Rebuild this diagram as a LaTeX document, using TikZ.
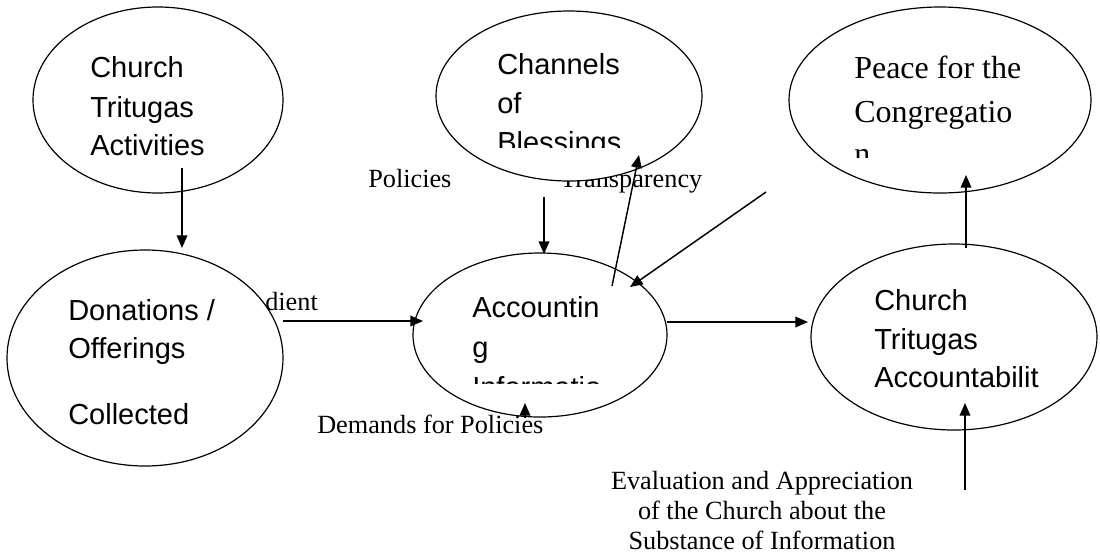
\documentclass[tikz,border=0pt]{standalone}
\usepackage{fontspec}
\setmainfont{Liberation Serif}
\newfontfamily\arialf{Liberation Sans}
\usetikzlibrary{shapes.geometric,arrows.meta}
\begin{document}
\begin{tikzpicture}[x=0.75pt,y=-0.75pt,
  ell/.style={draw, ellipse, fill=white, line width=0.9pt, inner sep=0pt},
  arr/.style={-{Triangle[length=9.5pt,width=8pt]}, line width=1.1pt},
  lab/.style={anchor=base west, inner sep=0pt, font=\fontsize{19.7}{22}\selectfont},
  etxt/.style={anchor=base west, inner sep=0pt, font=\arialf\fontsize{21.75}{26}\selectfont},
  ptxt/.style={anchor=base west, inner sep=0pt, font=\fontsize{24}{28}\selectfont}]
\useasboundingbox (0,0) rectangle (1100,558);

% labels that lie under ellipses
\node[lab] (lobed) at (265,310) {dient};
\node[lab] (ltrans) at (560,187) {Transparency};
\node[lab] (lpol) at (368,187) {Policies};
\node[lab] (ldem) at (317,433) {Demands for Policies};
\node[lab, anchor=base] (leval) at (762,489) {Evaluation and Appreciation};
\node[lab, anchor=base] (leval2) at (762,519) {of the Church about the};
\node[lab, anchor=base] (leval3) at (762,549) {Substance of Information};

% ellipses
\node[ell, minimum width=187.5pt, minimum height=139.5pt] (act) at (158,100) {};
\node[ell, minimum width=207pt, minimum height=162pt] (don) at (145,358) {};
\node[ell, minimum width=199.5pt, minimum height=127.5pt] (chan) at (569,96) {};
\node[ell, minimum width=226.5pt, minimum height=139.5pt] (peace) at (940,100) {};
\node[ell, minimum width=190.5pt, minimum height=123pt] (acc) at (540,335) {};
\node[ell, minimum width=214.5pt, minimum height=139.5pt] (cta) at (954,337) {};

% ellipse texts
\node[etxt] (t1a) at (90,77) {Church};
\node[etxt] (t1b) at (90,117) {Tritugas};
\node[etxt] (t1c) at (90,155) {Activities};

\node[etxt] (t2a) at (68,320) {Donations /};
\node[etxt] (t2b) at (68,358) {Offerings};
\node[etxt] (t2c) at (68,424) {Collected};

\begin{scope}
\clip (480,20) rectangle (680,147);
\node[etxt] (t3a) at (497,74) {Channels};
\node[etxt] (t3b) at (497,113) {of};
\node[etxt] (t3c) at (497,152) {Blessings};
\end{scope}

\begin{scope}
\clip (840,20) rectangle (1080,157);
\node[ptxt] (t4a) at (854,78) {Peace for the};
\node[ptxt] (t4b) at (854,122) {Congregatio};
\node[ptxt] (t4c) at (854,164) {n};
\end{scope}

\begin{scope}
\clip (460,270) rectangle (660,383);
\node[etxt] (t5a) at (472,317) {Accountin};
\node[etxt] (t5b) at (472,357) {g};
\node[etxt] (t5c) at (472,397) {Informatio};
\end{scope}

\node[etxt] (t6a) at (874,310) {Church};
\node[etxt] (t6b) at (874,349) {Tritugas};
\node[etxt] (t6c) at (874,387) {Accountabilit};

% connector end points
\coordinate (a1s) at (182,168); \coordinate (a1e) at (182,248);
\coordinate (a2s) at (544,197); \coordinate (a2e) at (544,254);
\coordinate (a3s) at (612,286); \coordinate (a3e) at (639,155);
\coordinate (a4s) at (766,192); \coordinate (a4e) at (630,287);
\coordinate (a5s) at (283,321); \coordinate (a5e) at (423,321);
\coordinate (a6s) at (667,322); \coordinate (a6e) at (808,322);
\coordinate (a7s) at (966,248); \coordinate (a7e) at (966,175);
\coordinate (a8s) at (965,490); \coordinate (a8e) at (965,403);
\coordinate (a9s) at (525,418); \coordinate (a9e) at (525,403);

\draw[arr] (a1s) -- (a1e);
\draw[arr] (a2s) -- (a2e);
\draw[arr] (a3s) -- (a3e);
\draw[arr] (a4s) -- (a4e);
\draw[arr] (a5s) -- (a5e);
\draw[arr] (a6s) -- (a6e);
\draw[arr] (a7s) -- (a7e);
\draw[arr] (a8s) -- (a8e);
\draw[arr] (a9s) -- (a9e);
\end{tikzpicture}
\end{document}
